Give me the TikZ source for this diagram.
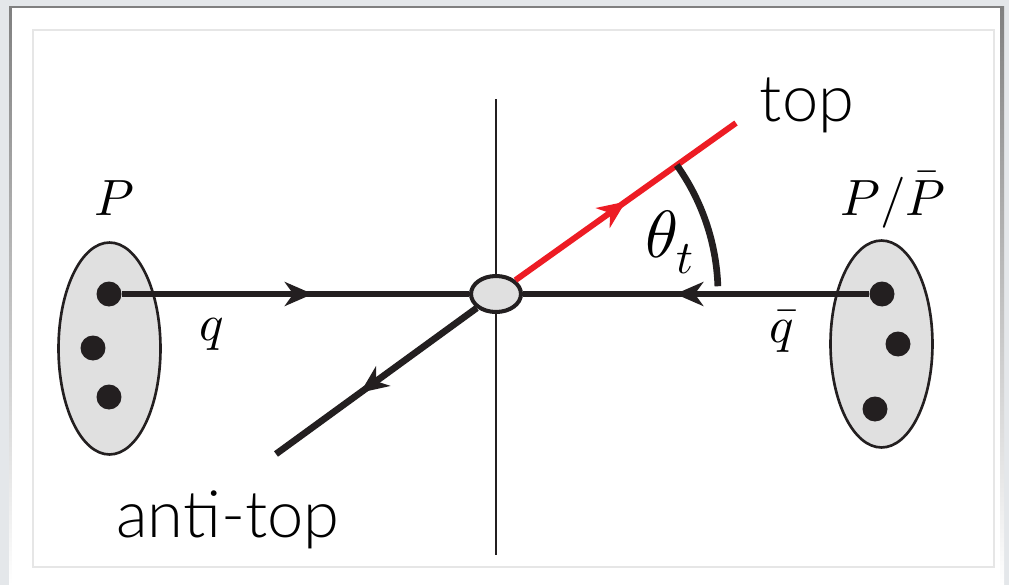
\documentclass[tikz,border=0pt]{standalone}
\usepackage{fontspec}
\usepackage{unicode-math}
\newfontfamily\labelfont{Lato Light}
\usetikzlibrary{positioning,arrows.meta,decorations.markings,shapes.geometric}
\definecolor{ink}    {HTML}{231F20}
\definecolor{topred} {HTML}{ED1C24}
\definecolor{blobbg} {HTML}{E0E0E0}
\definecolor{page}   {HTML}{E4E7EA}
\definecolor{shade}  {HTML}{D2D6DA}
\definecolor{frame}  {HTML}{E6E6E6}

\begin{document}
\begin{tikzpicture}[x=0.02cm,y=-0.02cm,
  blob/.style={ellipse,draw=ink,fill=blobbg,line width=1.5pt,inner sep=0pt,
               minimum width=2.04cm},
  dot/.style={circle,fill=ink,inner sep=0pt,minimum size=0.5cm},
  vert/.style={ellipse,draw=ink,fill=blobbg,line width=2.3pt,inner sep=0pt,
               minimum width=1.0cm,minimum height=0.72cm},
  axis/.style={color=ink,line width=1.6pt},
  qline/.style={color=ink,line width=3.8pt,postaction={decorate,
    decoration={markings,mark=at position #1 with
      {\arrow{Stealth[length=0.56cm,width=0.48cm,inset=0.17cm]}}}}},
  mlbl/.style={inner sep=0pt,font=\fontsize{29}{34}\selectfont},
  lbl/.style={inner sep=0pt,font=\labelfont\fontsize{37}{42}\selectfont}]
  \useasboundingbox (0,0) rectangle (1009,585);
  \fill[page] (0,0) rectangle (1009,585);
  \fill[shade] (9,6) rectangle (1004,585);
  \fill[white] (12,8) rectangle (1000,585);
  \draw[frame,line width=0.6pt] (33,30) rectangle (994,567);

  \node[blob,minimum height=4.24cm] (pL) at (109.5,348.5) {};
  \node[blob,minimum height=4.14cm] (pR) at (881.5,344) {};
  \foreach \n/\x/\y in {qL/109/294,l2/93/348,l3/109/397,
                        qR/882/294,r2/898/344,r3/875/409}
    \node[dot] (\n) at (\x,\y) {};

  \coordinate (axTop) at (496,99);
  \coordinate (axBot) at (496,555);
  \draw[axis] (axTop) -- (axBot);
  \node[vert] (vtx) at (496,294) {};
  \coordinate (topEnd) at (736,123);
  \coordinate (antiEnd) at (276,454);

  \draw[qline=0.55] (qL) -- (vtx);
  \draw[qline=0.56] (qR) -- (vtx);
  \draw[qline=0.5,color=topred,line width=3.4pt] (vtx) -- (topEnd);
  \draw[qline=0.58] (vtx) -- (antiEnd);
  \draw[color=ink,line width=3.8pt] (vtx.center) ++(-2:222)
    arc[start angle=-2,end angle=-35.5,radius=222];

  \node[mlbl,anchor=base] (lP)  at (114,215) {$P$};
  \node[mlbl,anchor=base] (lPP) at (893,215) {$P/\bar{P}$};
  \node[mlbl,anchor=base] (lq)  at (212,340) {$q$};
  \node[mlbl,anchor=base] (lqb) at (782,342) {$\bar{q}$};
  \node[inner sep=0pt,font=\fontsize{38}{44}\selectfont,anchor=base west]
    (lth) at (645,257) {$\theta_t$};
  \node[lbl,anchor=base] (ltop)  at (807,121) {top};
  \node[lbl,anchor=base] (lanti) at (228,537) {anti-top};
\end{tikzpicture}
\end{document}
